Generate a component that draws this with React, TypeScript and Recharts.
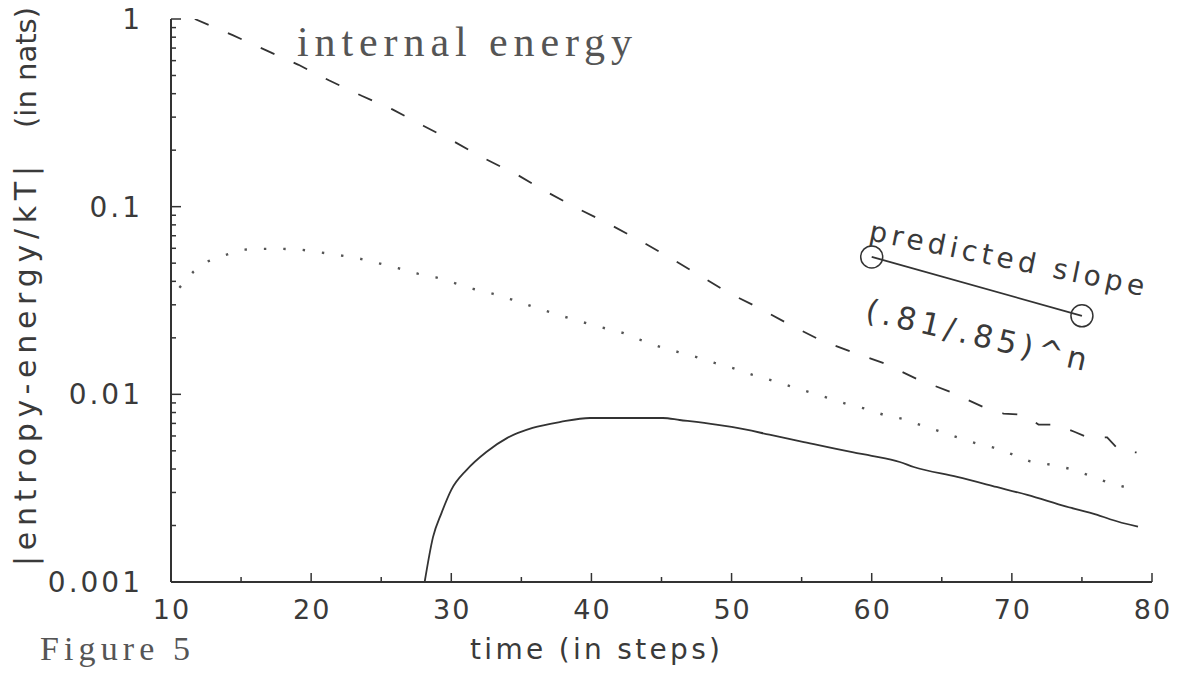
import { LineChart, Line, XAxis, YAxis } from 'recharts'

// time (in steps) and |entropy-energy/kT|
const dashedSteps = [11.7, 14.4, 16.8, 19.1, 21.3, 23.6, 25.8, 28.0, 30.3, 32.4, 34.7, 36.8, 39.0, 41.1, 43.3, 45.5, 47.5, 49.7, 51.9, 54.2, 56.3, 58.6, 60.8, 63.2, 65.6, 67.9, 69.4, 70.8, 71.9, 73.2, 74.5, 75.4, 76.8, 77.7, 78.9]
const dashedValues = [1.0, 0.82, 0.68, 0.57, 0.47, 0.39, 0.33, 0.27, 0.22, 0.18, 0.148, 0.12, 0.098, 0.082, 0.067, 0.054, 0.044, 0.035, 0.029, 0.0234, 0.0195, 0.0168, 0.0147, 0.0121, 0.0103, 0.0086, 0.0079, 0.0078, 0.0069, 0.0069, 0.0063, 0.0059, 0.0059, 0.005, 0.0049]

const dottedSteps = [10.6, 11.6, 12.6, 13.8, 15.1, 16.5, 17.9, 19.3, 20.7, 22.1, 23.4, 24.8, 26.2, 27.6, 28.9, 30.3, 31.6, 33.0, 34.2, 36.0, 38.0, 40.0, 42.3, 43.5, 44.9, 46.2, 47.5, 48.8, 50.1, 51.5, 52.8, 54.1, 55.5, 56.8, 58.2, 59.5, 60.8, 62.2, 63.4, 64.7, 66.1, 67.4, 68.7, 70.0, 71.3, 72.9, 74.2, 75.5, 76.8, 78.1]
const dottedValues = [0.037, 0.045, 0.051, 0.055, 0.059, 0.0596, 0.0596, 0.059, 0.057, 0.055, 0.053, 0.05, 0.047, 0.044, 0.042, 0.039, 0.0364, 0.0343, 0.0322, 0.029, 0.026, 0.0235, 0.0212, 0.0195, 0.0179, 0.0168, 0.0158, 0.0147, 0.0138, 0.0127, 0.0119, 0.0111, 0.0103, 0.0096, 0.0089, 0.0084, 0.0078, 0.0074, 0.0069, 0.0064, 0.0059, 0.0055, 0.0052, 0.0048, 0.0044, 0.0042, 0.004, 0.0037, 0.0034, 0.0032]

const solidSteps = [28.1, 28.7, 29.3, 30.0, 31.1, 32.5, 34.0, 35.8, 37.8, 39.9, 42.8, 45.1, 46.3, 48.9, 50.0, 52.7, 55.0, 58.7, 60.0, 62.0, 63.0, 66.1, 68.9, 71.1, 73.9, 76.1, 77.0, 79.0]
const solidValues = [0.001, 0.00174, 0.00233, 0.0031, 0.00396, 0.00493, 0.00586, 0.00662, 0.00713, 0.00748, 0.00748, 0.00748, 0.0073, 0.0069, 0.0067, 0.0061, 0.0056, 0.0049, 0.0047, 0.00436, 0.0041, 0.00363, 0.00321, 0.00291, 0.00252, 0.00228, 0.00216, 0.00197]

// predicted slope (.81/.85)^n marker
const slopeSteps = [60, 75]
const slopeValues = [0.054, 0.0262]

const xTicks = [10, 15, 20, 25, 30, 35, 40, 45, 50, 55, 60, 65, 70, 75, 80]
const yTicks = [
  0.001, 0.002, 0.003, 0.004, 0.005, 0.006, 0.007, 0.008, 0.009,
  0.01, 0.02, 0.03, 0.04, 0.05, 0.06, 0.07, 0.08, 0.09,
  0.1, 0.2, 0.3, 0.4, 0.5, 0.6, 0.7, 0.8, 0.9, 1,
]
const yDecades = [0.001, 0.01, 0.1, 1]
const yDecadeLabels = ['0.001', '0.01', '0.1', '1']

const toPoints = (xs: number[], ys: number[]) => xs.map((x, i) => ({ x, y: ys[i] }))

const ink = '#333'
const textInk = '#3a3a3a'
const sans = '"DejaVu Sans", sans-serif'
const serif = '"Liberation Serif", serif'

function XTick(props: any) {
  const { x, y, payload } = props
  const major = payload.value % 10 === 0
  return (
    <g>
      <line x1={x} x2={x} y1={y} y2={y - (major ? 9 : 5)} stroke={ink} strokeWidth={1.5} />
      {major && (
        <text x={x + 1} y={y + 37} textAnchor="middle" fontFamily={sans} fontSize={27} letterSpacing={2} fill={textInk}>
          {payload.value}
        </text>
      )}
    </g>
  )
}

function YTick(props: any) {
  const { x, y, payload } = props
  const idx = yDecades.findIndex((d) => Math.abs(d - payload.value) < d * 1e-6)
  const major = idx >= 0
  return (
    <g>
      <line x1={x} x2={x + (major ? 10 : 5)} y1={y} y2={y} stroke={ink} strokeWidth={1.5} />
      {major && (
        <text x={x - 28} y={y + 10} textAnchor="end" fontFamily={sans} fontSize={28} letterSpacing={3} fill={textInk}>
          {yDecadeLabels[idx]}
        </text>
      )}
    </g>
  )
}

export default function App() {
  return (
    <div style={{ position: 'absolute', left: 0, top: 0, width: 1186, height: 677, background: '#fff' }}>
      <LineChart width={1186} height={677} margin={{ top: 19, right: 34, bottom: 55, left: 51 }}>
        <XAxis
          type="number"
          dataKey="x"
          domain={[10, 80]}
          ticks={xTicks}
          interval={0}
          tickSize={0}
          tickMargin={0}
          tickLine={false}
          height={40}
          axisLine={{ stroke: ink, strokeWidth: 2 }}
          tick={<XTick />}
        />
        <YAxis
          type="number"
          scale="log"
          domain={[0.001, 1]}
          allowDataOverflow
          ticks={yTicks}
          interval={0}
          tickSize={0}
          tickMargin={0}
          tickLine={false}
          width={120}
          axisLine={{ stroke: ink, strokeWidth: 2 }}
          tick={<YTick />}
        />
        <Line
          data={toPoints(dashedSteps, dashedValues)}
          dataKey="y"
          type="linear"
          stroke={ink}
          strokeWidth={1.8}
          strokeDasharray="15 21"
          dot={false}
          activeDot={false}
          isAnimationActive={false}
        />
        <Line
          data={toPoints(dottedSteps, dottedValues)}
          dataKey="y"
          type="linear"
          stroke="#555"
          strokeWidth={2.4}
          strokeDasharray="2.4 17"
          dot={false}
          activeDot={false}
          isAnimationActive={false}
        />
        <Line
          data={toPoints(solidSteps, solidValues)}
          dataKey="y"
          type="monotone"
          stroke={ink}
          strokeWidth={1.8}
          dot={false}
          activeDot={false}
          isAnimationActive={false}
        />
        <Line
          data={toPoints(slopeSteps, slopeValues)}
          dataKey="y"
          type="linear"
          stroke={ink}
          strokeWidth={1.8}
          dot={{ r: 11, fill: 'none', stroke: ink, strokeWidth: 1.5 }}
          activeDot={false}
          isAnimationActive={false}
        />
      </LineChart>
      <svg
        width={1186}
        height={677}
        style={{ position: 'absolute', left: 0, top: 0, pointerEvents: 'none' }}
      >
        <text x={297} y={56} fontFamily={serif} fontSize={42} fill="#555" textLength={335} lengthAdjust="spacing">
          internal energy
        </text>
        <text x={40} y={660} fontFamily={serif} fontSize={34} fill="#555" textLength={150} lengthAdjust="spacing">
          Figure 5
        </text>
        <text x={470} y={659} fontFamily={sans} fontSize={28} fill={textInk} textLength={250} lengthAdjust="spacing">
          time (in steps)
        </text>
        <text transform="translate(36,566) rotate(-90)" fontFamily={sans} fontSize={30} fill={textInk} textLength={400} lengthAdjust="spacing">
          |entropy-energy/kT|
        </text>
        <text transform="translate(36,128) rotate(-90)" fontFamily={sans} fontSize={29} fill={textInk} textLength={121} lengthAdjust="spacing">
          (in nats)
        </text>
        <text transform="translate(868,240) rotate(11.5)" fontFamily={sans} fontSize={28} fill={textInk} textLength={280} lengthAdjust="spacing">
          predicted slope
        </text>
        <text transform="translate(864,320) rotate(13)" fontFamily={sans} fontSize={31} fill={textInk} textLength={226} lengthAdjust="spacing">
          (.81/.85)^n
        </text>
      </svg>
    </div>
  )
}
